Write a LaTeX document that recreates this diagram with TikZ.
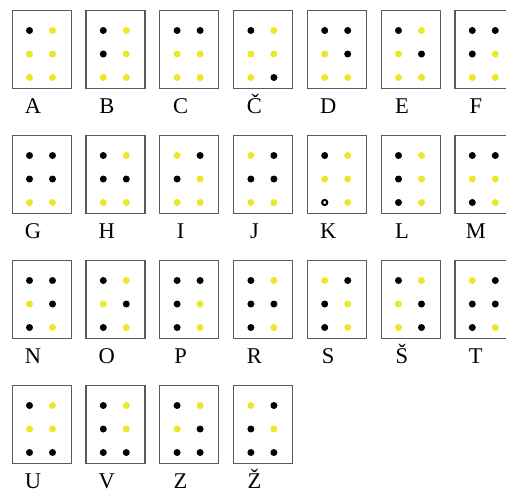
\documentclass[tikz,border=0pt]{standalone}
\usepackage{fontspec}
\setmainfont{Liberation Serif}
\usetikzlibrary{positioning}
\definecolor{dotyellow}{RGB}{236,232,40}
\definecolor{boxgray}{RGB}{90,90,90}
\tikzset{
    % Cells
    cellbox/.style={
        rectangle,
        draw=boxgray,
        line width=1.2pt,
        minimum width=59pt,
        minimum height=78pt,
        inner sep=0pt
    },
    % Dots
    blackdot/.style={fill=black},
    yellowdot/.style={fill=dotyellow},
    ringdot/.style={draw=black, line width=2pt, fill=white},
    % Letters
    letter/.style={
        font=\fontsize{22.5}{24}\selectfont,
        inner sep=0pt,
        anchor=base
    }
}

\begin{document}
\begin{tikzpicture}[x=1pt, y=-1pt]

    % Frame
    \clip (0,0) rectangle (506,493);

    % Cells, 7 per row
    \foreach \lbl/\code [count=\k from 0] in {
        A/{1,0,0,0,0,0}, B/{1,0,1,0,0,0}, C/{1,1,0,0,0,0}, Č/{1,0,0,0,0,1},
        D/{1,1,0,1,0,0}, E/{1,0,0,1,0,0}, F/{1,1,1,0,0,0},
        G/{1,1,1,1,0,0}, H/{1,0,1,1,0,0}, I/{0,1,1,0,0,0}, J/{0,1,1,1,0,0},
        K/{1,0,0,0,2,0}, L/{1,0,1,0,1,0}, M/{1,1,0,0,1,0},
        N/{1,1,0,1,1,0}, O/{1,0,0,1,1,0}, P/{1,1,1,0,1,0}, R/{1,0,1,1,1,0},
        S/{0,1,1,0,1,0}, Š/{1,0,0,1,0,1}, T/{0,1,1,1,1,0},
        U/{1,0,0,0,1,1}, V/{1,0,1,0,1,1}, Z/{1,0,0,1,1,1}, Ž/{0,1,1,0,1,1}} {
        \pgfmathtruncatemacro{\col}{mod(\k,7)}
        \pgfmathtruncatemacro{\row}{int(\k/7)}
        \pgfmathsetmacro{\bx}{11.5+73.8*\col}
        \pgfmathsetmacro{\by}{10+125*\row}
        \node[cellbox, anchor=north west] (box\k) at (\bx,\by) {};
        \node[letter] (lbl\k) at ([xshift=21.5pt, yshift=-103pt]box\k.north west) {\lbl};

        % Dots: 1 black, 0 yellow, 2 ring
        \foreach \d [count=\n from 0] in \code {
            \pgfmathsetmacro{\dx}{\bx+18+23*mod(\n,2)}
            \pgfmathsetmacro{\dy}{\by+20.5+23.5*int(\n/2)}
            \ifnum\d=0 \fill[yellowdot] (\dx,\dy) circle[radius=3.5pt];\fi
            \ifnum\d=1 \fill[blackdot] (\dx,\dy) circle[radius=3.5pt];\fi
            \ifnum\d=2 \filldraw[ringdot] (\dx,\dy) circle[radius=2.6pt];\fi
        }
    }

\end{tikzpicture}
\end{document}
